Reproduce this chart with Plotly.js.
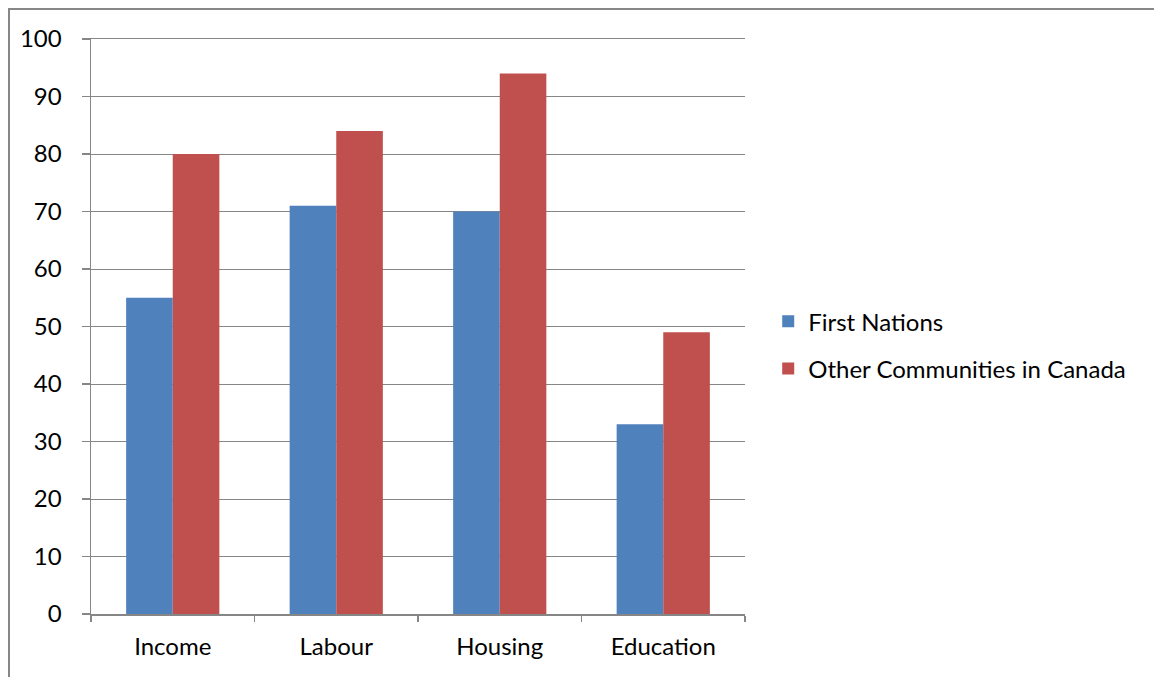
<!DOCTYPE html>
<html>
<head>
<meta charset="utf-8">
<script src="https://cdn.plot.ly/plotly-3.0.1.min.js"></script>
<style>
  html, body { margin: 0; padding: 0; background: #fff; }
  #wrap { position: relative; width: 1154px; height: 677px; overflow: hidden; }
  #frame { position: absolute; left: 8px; top: 8px; width: 1160px; height: 690px;
           border-left: 2px solid #878787; border-top: 2px solid #878787; box-sizing: border-box; pointer-events: none; }
  #chart { position: absolute; left: 0; top: 0; width: 1154px; height: 677px; }
</style>
</head>
<body>
<div id="wrap">
  <div id="chart"></div>
  <div id="frame"></div>
</div>
<script>
const categories = ["Income", "Labour", "Housing", "Education"];
const firstNations = [55, 71, 70, 33];
const otherCommunities = [80, 84, 94, 49];
const seriesNames = ["First Nations", "Other Communities in Canada"];
const yTicks = [0, 10, 20, 30, 40, 50, 60, 70, 80, 90, 100];

const FONT = "Lato, 'Noto Sans', sans-serif";
const FS = 24;

const data = [
  { type: "bar", x: categories, y: firstNations, name: seriesNames[0],
    marker: { color: "#4F81BD", line: { width: 0 } }, legendgroup: "a" },
  { type: "bar", x: categories, y: otherCommunities, name: seriesNames[1],
    marker: { color: "#C0504D", line: { width: 0 } }, legendgroup: "b" }
];

const layout = {
  width: 1154, height: 677,
  margin: { l: 91, r: 409, t: 39, b: 63 },
  paper_bgcolor: "#ffffff", plot_bgcolor: "#ffffff",
  barmode: "group", bargap: 0.43, bargroupgap: 0,
  font: { family: FONT, size: FS, color: "#000000" },
  showlegend: true,
  legend: {
    xref: "container", yref: "container",
    x: 0.6657, y: 0.49, xanchor: "left", yanchor: "middle",
    font: { family: FONT, size: FS, color: "#000000" },
    traceorder: "grouped", tracegroupgap: 13,
    itemwidth: 30, bgcolor: "rgba(0,0,0,0)"
  },
  xaxis: {
    type: "category", showgrid: false, showline: true, linecolor: "#868686", linewidth: 1.5,
    mirror: true,
    ticks: "outside", tickson: "boundaries", ticklen: 6, tickcolor: "#868686", tickwidth: 1.5,
    ticklabelstandoff: 11,
    tickfont: { family: FONT, size: FS, color: "#000" }, zeroline: false, fixedrange: true
  },
  yaxis: {
    range: [0, 100], tickvals: yTicks, ticktext: yTicks.map(String),
    showgrid: true, gridcolor: "#868686", gridwidth: 1,
    showline: true, linecolor: "#868686", linewidth: 1.5,
    ticks: "outside", ticklen: 8, tickcolor: "#868686", tickwidth: 1.5,
    ticklabelstandoff: 15,
    tickfont: { family: FONT, size: FS, color: "#000" }, zeroline: false, fixedrange: true
  }
};

Plotly.newPlot("chart", data, layout, { staticPlot: true, displayModeBar: false });
</script>
</body>
</html>
